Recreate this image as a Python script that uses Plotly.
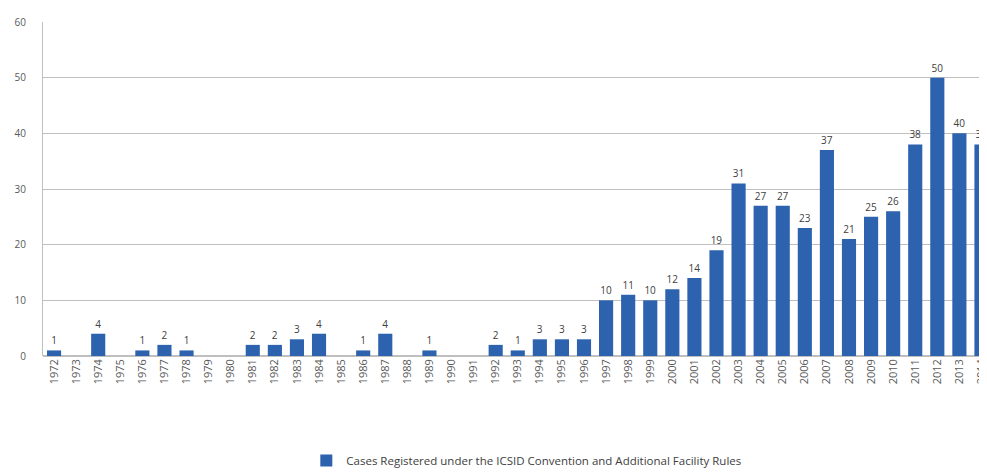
import plotly.graph_objects as go

years = [str(y) for y in range(1972, 2015)]
cases = [1, 0, 4, 0, 1, 2, 1, 0, 0, 2, 2, 3, 4, 0, 1, 4, 0, 1, 0, 0,
         2, 1, 3, 3, 3, 10, 11, 10, 12, 14, 19, 31, 27, 27, 23, 37, 21, 25, 26, 38, 50, 40, 38]
series_name = "Cases Registered under the ICSID Convention and Additional Facility Rules"

labels = [str(v) if v else "" for v in cases]

fig = go.Figure()
fig.add_trace(go.Bar(
    x=years, y=cases, name=series_name,
    text=labels, textposition="outside", cliponaxis=True,
    textfont=dict(size=10, color="#404040", family="Open Sans"),
    marker=dict(color="#2C62AE", line=dict(width=0)),
    showlegend=True,
))

# page body has an 8px margin, so the figure is offset by 8px right and down
fig.update_layout(
    width=979, height=467,
    margin=dict(l=35, r=0, t=14, b=117),
    paper_bgcolor="white", plot_bgcolor="white",
    bargap=0.36,
    font=dict(family="Open Sans", size=10, color="#595959"),
    showlegend=True,
    legend=dict(orientation="h", x=0.512, xanchor="center", y=-0.3125, yanchor="middle",
                font=dict(size=11.5, color="#404040"), itemwidth=30),
    xaxis=dict(type="category", range=[-0.5, 42.25], tickangle=-90,
               showline=False, ticks="", tickfont=dict(size=11, color="#595959")),
    yaxis=dict(range=[0, 60], dtick=10, showgrid=True, gridcolor="#BFBFBF", gridwidth=1,
               showline=True, linecolor="#BFBFBF", linewidth=1, zeroline=True,
               zerolinecolor="#BFBFBF", ticks="", ticklabelstandoff=14,
               tickfont=dict(size=10, color="#595959")),
)

fig.write_html("out.html")
